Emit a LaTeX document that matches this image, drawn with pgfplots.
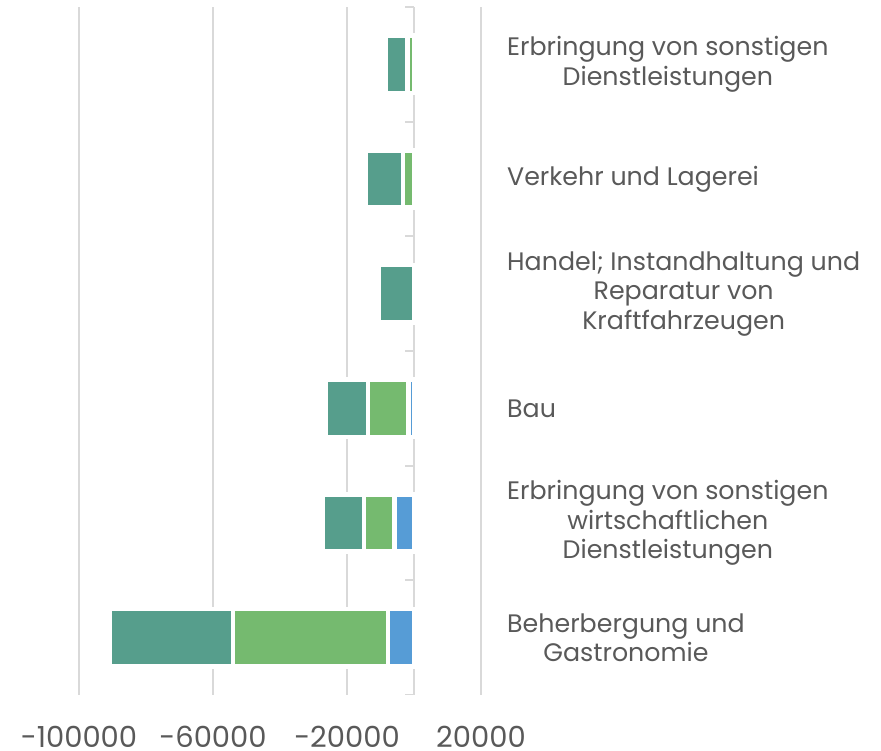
\documentclass[border=0pt]{standalone}
\usepackage{fontspec}
\setmainfont{Poppins}
\usepackage{pgfplots}
\pgfplotsset{compat=1.18}

\definecolor{cteal}{RGB}{86,158,140}
\definecolor{cgreen}{RGB}{117,186,111}
\definecolor{cblue}{RGB}{86,156,214}
\definecolor{gridgray}{RGB}{217,217,217}
\definecolor{txtgray}{RGB}{89,89,89}

\begin{document}
\begin{tikzpicture}
\useasboundingbox (0,0) rectangle (881pt,751pt);
\begin{axis}[
    at={(79pt,56pt)}, anchor=south west,
    scale only axis,
    width=402pt, height=688pt,
    xbar stacked,
    bar width=0.5,
    xmin=-100000, xmax=20000,
    ymin=-0.5, ymax=5.5,
    xtick={-100000,-60000,-20000,20000},
    xticklabels={-100000,-60000,-20000,20000},
    ytick={0,1,2,3,4,5},
    yticklabels={
        {Beherbergung und\\Gastronomie},
        {Erbringung von sonstigen\\wirtschaftlichen\\Dienstleistungen},
        {Bau},
        {Handel; Instandhaltung und\\Reparatur von\\Kraftfahrzeugen},
        {Verkehr und Lagerei},
        {Erbringung von sonstigen\\Dienstleistungen}},
    yticklabel pos=right,
    yticklabel style={anchor=west, align=center, inner sep=0pt, xshift=26pt,
        font=\fontsize{25.3}{29.4}\selectfont, text=txtgray},
    xticklabel style={anchor=base, inner sep=0pt, yshift=-52.5pt,
        font=\fontsize{29}{33}\selectfont, text=txtgray},
    axis line style={draw=none},
    major tick length=0pt,
    xmajorgrids,
    grid style={gridgray, line width=1.6pt},
    every axis plot/.append style={draw=white, line width=4.4pt},
]
% blue series (nearest to zero)
\addplot[fill=cblue] coordinates {
    (-7800,0) (-5800,1) (-1700,2) (0,3) (0,4) (0,5)
};
% green series
\addplot[fill=cgreen] coordinates {
    (-46300,0) (-9200,1) (-12100,2) (0,3) (-3200,4) (-2000,5)
};
% teal series
\addplot[fill=cteal] coordinates {
    (-36700,0) (-12100,1) (-12600,2) (-10550,3) (-11100,4) (-6400,5)
};
\draw[gridgray, line width=2pt] (axis cs:0,-0.5) -- (axis cs:0,5.5);
\pgfplotsinvokeforeach{-0.5,0.5,1.5,2.5,3.5,4.5,5.5}{
    \draw[gridgray, line width=2pt] (axis cs:0,#1) -- ([xshift=-8.7pt]axis cs:0,#1);
}
\end{axis}
\end{tikzpicture}
\end{document}
